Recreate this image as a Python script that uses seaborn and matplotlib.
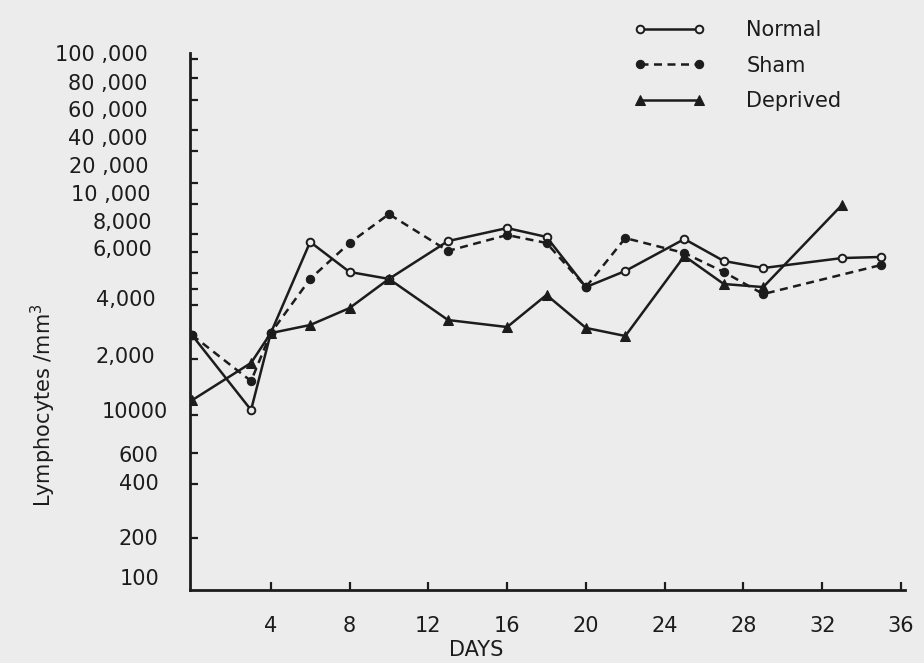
import numpy as np
import pandas as pd
import matplotlib
matplotlib.use("Agg")
import matplotlib.pyplot as plt
import matplotlib.transforms as mtransforms
import seaborn as sns

# ---------------- data ----------------
days_normal = [0, 3, 4, 6, 8, 10, 13, 16, 18, 20, 22, 25, 27, 29, 33, 35]
normal = [2550, 1000, 2610, 6400, 4940, 4670, 6460, 7420, 6750, 4370, 4980,
          6600, 5400, 5100, 5530, 5580]

days_sham = [0, 3, 4, 6, 8, 10, 13, 16, 18, 20, 22, 25, 27, 29, 35]
sham = [2550, 1440, 2610, 4670, 6330, 8450, 5860, 6890, 6330, 4370, 6670,
        5760, 4940, 4130, 5230]

days_deprived = [0, 3, 4, 6, 8, 10, 13, 16, 18, 20, 22, 25, 27, 29, 33]
deprived = [1130, 1810, 2610, 2880, 3540, 4670, 3060, 2810, 4100, 2780, 2520,
            5620, 4480, 4370, 9090]

x_ticks = [4, 8, 12, 16, 20, 24, 28, 32, 36]
y_tick_values = [100, 200, 400, 600, 1000, 2000, 4000, 6000, 8000, 10000,
                 20000, 40000, 60000, 80000, 100000]
y_tick_labels = ["100", "200", "400", "600", "10000", "2,000", "4,000",
                 "6,000", "8,000", "10 ,000", "20 ,000", "40 ,000", "60 ,000",
                 "80 ,000", "100 ,000"]

# ---------------- styling / scale definition ----------------
# hand-drawn (irregular) log-like scale of the original axis
scale_values = [80] + y_tick_values
scale_heights = [0, 13, 53, 108, 136, 180, 235, 292, 342, 369, 397, 425, 453,
                 481, 508, 537]
# heights (px above the x axis) of the tick marks drawn on the original axis
tick_mark_heights = [531, 512, 490, 460, 439, 407, 386, 356, 338, 317, 301,
                     285, 231, 175, 137, 106, 52]
# horizontal nudge (px) of each typed y label, same order as y_tick_labels
label_nudge_px = [7, 6, 6, 6, 15, 3, 3, 0, 0, -2, -4, -5, -5, -5, -5]

_logv = np.log10(np.array(scale_values, dtype=float))
_h = np.array(scale_heights, dtype=float)


def fwd(v):
    v = np.asarray(v, dtype=float)
    with np.errstate(all="ignore"):
        lv = np.log10(np.clip(v, 1e-9, None))
    return np.interp(lv, _logv, _h)


def inv(h):
    h = np.asarray(h, dtype=float)
    return 10 ** np.interp(h, _h, _logv)


# ---------------- figure ----------------
sns.set_style("ticks")
plt.rcParams["font.family"] = ["DejaVu Sans"]

BG = "#ececec"
INK = "#1c1c1c"

fig = plt.figure(figsize=(9.24, 6.63), dpi=100)
fig.patch.set_facecolor(BG)
ax = fig.add_axes([190 / 924, 73 / 663, 715 / 924, 537 / 663])
ax.set_facecolor(BG)

df_n = pd.DataFrame({"day": days_normal, "value": normal})
df_s = pd.DataFrame({"day": days_sham, "value": sham})
df_d = pd.DataFrame({"day": days_deprived, "value": deprived})

sns.lineplot(data=df_n, x="day", y="value", ax=ax, color=INK, lw=1.8,
             marker="o", markersize=5.5, markerfacecolor=BG,
             markeredgecolor=INK, markeredgewidth=1.4, label="Normal",
             sort=False)
sns.lineplot(data=df_s, x="day", y="value", ax=ax, color=INK, lw=1.8,
             linestyle=(0, (3.2, 2.2)), marker="o", markersize=6,
             markerfacecolor=INK, markeredgecolor=INK, label="Sham",
             sort=False)
sns.lineplot(data=df_d, x="day", y="value", ax=ax, color=INK, lw=1.8,
             marker="^", markersize=6.5, markerfacecolor=INK,
             markeredgecolor=INK, label="Deprived", sort=False)

ax.set_yscale("function", functions=(fwd, inv))
ax.set_ylim(80, 100000)
ax.set_xlim(-0.1, 36.2)
ax.set_yticks(y_tick_values)
ax.set_yticklabels(y_tick_labels)
ax.set_yticks(inv(np.array(tick_mark_heights, dtype=float)), minor=True)
ax.set_xticks(x_ticks)
ax.set_xticklabels([str(t) for t in x_ticks])

for side in ["top", "right"]:
    ax.spines[side].set_visible(False)
for side in ["left", "bottom"]:
    ax.spines[side].set_color(INK)
    ax.spines[side].set_linewidth(2)

ax.tick_params(axis="both", which="major", direction="in", length=6,
               width=1.6, colors=INK, labelsize=15)
ax.tick_params(axis="y", which="major", length=0, pad=27)
ax.tick_params(axis="y", which="minor", direction="in", length=6, width=1.6,
               colors=INK, labelleft=False)
ax.tick_params(axis="x", pad=19)

for lab, dx in zip(ax.get_yticklabels(), label_nudge_px):
    lab.set_transform(lab.get_transform() +
                      mtransforms.ScaledTranslation(dx / 100, 0,
                                                    fig.dpi_scale_trans))

ax.set_xlabel("DAYS", fontsize=15, color=INK)
ax.xaxis.set_label_coords(0.40, -0.093)
ax.set_ylabel("Lymphocytes /mm$^3$", fontsize=15, color=INK)
ax.yaxis.set_label_coords(-0.185, 0.345)

handles, labels = ax.get_legend_handles_labels()
ax.legend(handles, labels, loc="upper left",
          bbox_to_anchor=(634 / 924, 1 - 20 / 663),
          bbox_transform=fig.transFigure, frameon=False, fontsize=15,
          handlelength=3.4, handletextpad=2.0, labelspacing=0.75,
          numpoints=2, borderpad=0, borderaxespad=0, labelcolor=INK)

fig.savefig("out.png", dpi=100, facecolor=fig.get_facecolor())
